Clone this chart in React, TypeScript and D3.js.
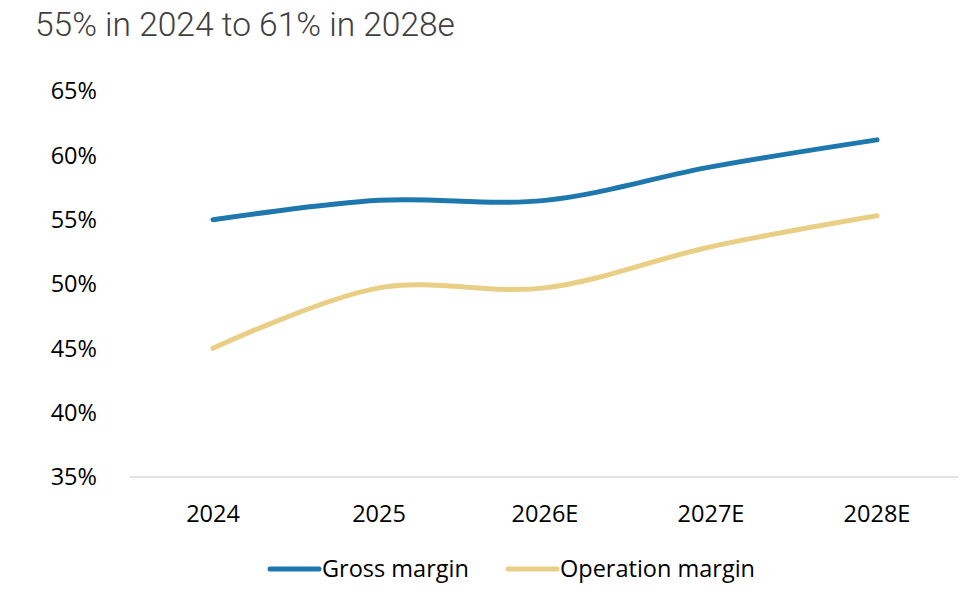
import { useEffect, useRef } from "react"
import * as d3 from "d3"

const years = ["2024", "2025", "2026E", "2027E", "2028E"]
const grossMargin = [55.0, 56.5, 56.5, 59.1, 61.2]
const operationMargin = [45.0, 49.7, 49.7, 52.9, 55.3]
const yTicks = [35, 40, 45, 50, 55, 60, 65]

const series = [
  { label: "Gross margin", values: grossMargin, color: "#1f78ad" },
  { label: "Operation margin", values: operationMargin, color: "#e9cf86" },
]

export default function App() {
  const svgRef = useRef<SVGSVGElement>(null)

  useEffect(() => {
    if (!svgRef.current) return
    const svg = d3.select(svgRef.current)
    svg.selectAll("*").remove()

    const width = 976
    const height = 608
    svg.attr("width", width).attr("height", height)

    const x = d3.scaleBand<string>().domain(years).range([130, 960])
    const y = d3.scaleLinear().domain([35, 65]).range([477, 91])
    const labelFont = "23.5px"

    svg
      .append("text")
      .attr("x", 35)
      .attr("y", 36)
      .style("font-family", "Roboto")
      .style("font-weight", 300)
      .style("font-size", "33.5px")
      .style("fill", "#404040")
      .text("55% in 2024 to 61% in 2028e")

    // y tick labels
    svg
      .selectAll(".ytick")
      .data(yTicks)
      .enter()
      .append("text")
      .attr("class", "ytick")
      .attr("x", 97)
      .attr("y", (d) => y(d))
      .attr("dy", "0.35em")
      .attr("text-anchor", "end")
      .style("font-family", "Open Sans")
      .style("font-size", labelFont)
      .style("fill", "#000")
      .text((d) => `${d}%`)

    // x axis line
    svg
      .append("line")
      .attr("x1", 130)
      .attr("x2", 958)
      .attr("y1", y(35))
      .attr("y2", y(35))
      .attr("stroke", "#d9d9d9")
      .attr("stroke-width", 1.5)

    svg
      .selectAll(".xtick")
      .data(years)
      .enter()
      .append("text")
      .attr("class", "xtick")
      .attr("x", (d) => (x(d) || 0) + x.bandwidth() / 2)
      .attr("y", 522)
      .attr("text-anchor", "middle")
      .style("font-family", "Open Sans")
      .style("font-size", labelFont)
      .style("fill", "#000")
      .text((d) => d)

    const line = d3
      .line<number>()
      .x((_, i) => (x(years[i]) || 0) + x.bandwidth() / 2)
      .y((d) => y(d))
      .curve(d3.curveCatmullRom.alpha(0.5))

    series.forEach((s) => {
      svg
        .append("path")
        .datum(s.values)
        .attr("fill", "none")
        .attr("stroke", s.color)
        .attr("stroke-width", 5)
        .attr("stroke-linecap", "round")
        .attr("d", line)
    })

    // legend
    const legendX = [268, 506]
    const legend = svg
      .selectAll(".legend-item")
      .data(series)
      .enter()
      .append("g")
      .attr("class", "legend-item")
      .attr("transform", (_, i) => `translate(${legendX[i]}, 569)`)

    legend
      .append("line")
      .attr("x1", 2)
      .attr("x2", 51)
      .attr("y1", 0)
      .attr("y2", 0)
      .attr("stroke", (d) => d.color)
      .attr("stroke-width", 5)
      .attr("stroke-linecap", "round")

    legend
      .append("text")
      .attr("x", 54)
      .attr("y", 0)
      .attr("dy", "0.35em")
      .style("font-family", "Open Sans")
      .style("font-size", labelFont)
      .style("fill", "#000")
      .text((d) => d.label)
  }, [])

  return (
    <div style={{ position: "absolute", left: 0, top: 0 }}>
      <svg ref={svgRef}></svg>
    </div>
  )
}
